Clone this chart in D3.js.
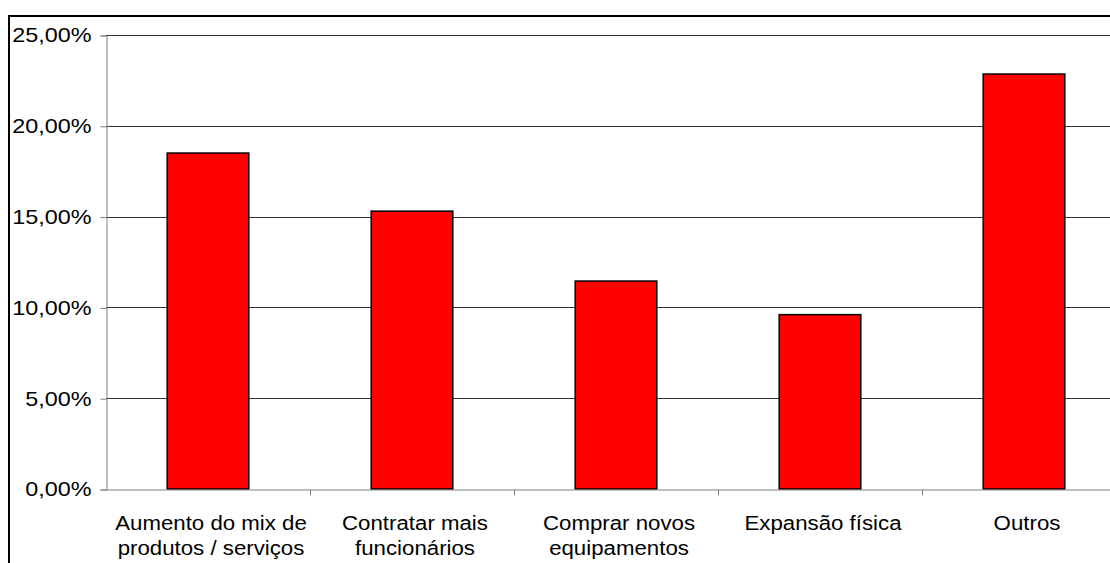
<!DOCTYPE html>
<html>
<head>
<meta charset="utf-8">
<script src="https://cdn.jsdelivr.net/npm/d3@7"></script>
<style>
  body { margin: 0; background: #fff; }
  text { font-family: "Liberation Sans", Arial, sans-serif; fill: #000; }
</style>
</head>
<body>
<div id="chart"></div>
<script>
// data
categories = ["mix", "func", "equip", "exp", "outros"]
labelLines = [
  ["Aumento do mix de", "produtos / serviços"],
  ["Contratar mais", "funcionários"],
  ["Comprar novos", "equipamentos"],
  ["Expansão física"],
  ["Outros"]
]
values = [0.185, 0.153, 0.1145, 0.096, 0.2285]
yTicks = [0, 0.05, 0.10, 0.15, 0.20, 0.25]

W = 1110, H = 563
plot = {left: 106, right: 1126, top: 35, bottom: 489}

svg = d3.select("#chart")
  .append("svg")
  .attr("width", W)
  .attr("height", H)

// outer chart border (runs off the right/bottom edge like the original)
svg.append("rect")
  .attr("x", 9).attr("y", 16)
  .attr("width", 1140).attr("height", 600)
  .attr("fill", "none")
  .attr("stroke", "#000")
  .attr("stroke-width", 2)

x = d3.scaleBand()
  .domain(categories)
  .range([plot.left, plot.right])
  .padding(0)

y = d3.scaleLinear()
  .domain([0, 0.25])
  .range([plot.bottom, plot.top])

// gridlines
svg.append("g")
  .selectAll("line")
  .data(yTicks.filter(d => d > 0))
  .join("line")
    .attr("x1", plot.left)
    .attr("x2", plot.right)
    .attr("y1", d => Math.round(y(d)) + 0.5)
    .attr("y2", d => Math.round(y(d)) + 0.5)
    .attr("stroke", "#333")
    .attr("stroke-width", 1)

// y axis
fmt = d => d3.format(".2f")(d * 100).replace(".", ",") + "%"
yAxis = svg.append("g")
  .attr("transform", `translate(${plot.left + 0.5}, 0.5)`)
  .call(d3.axisLeft(y).tickValues(yTicks).tickSize(6).tickFormat(fmt))
yAxis.select(".domain").attr("stroke", "#808080")
yAxis.selectAll(".tick line").attr("stroke", "#808080")
yAxis.selectAll(".tick text")
  .attr("x", null)
  .attr("transform", "translate(-15,0) scale(1.17,1)")
  .style("font-size", "20px")
  .style("font-family", "'Liberation Sans', Arial, sans-serif")

// bars
bw = x.bandwidth()
svg.append("g")
  .selectAll("rect")
  .data(values)
  .join("rect")
    .attr("x", (d, i) => x(categories[i]) + bw * 0.3)
    .attr("y", d => y(d))
    .attr("width", bw * 0.4)
    .attr("height", d => y(0) - y(d))
    .attr("fill", "#ff0000")
    .attr("stroke", "#000")
    .attr("stroke-width", 1.5)

// x axis, ticks sit between categories
xAxis = svg.append("g")
  .attr("transform", `translate(0, ${plot.bottom + 0.5})`)
  .call(d3.axisBottom(x).tickSize(0).tickFormat(""))
xAxis.select(".domain").attr("stroke", "#808080")
xAxis.selectAll(".tick").remove()

xAxis.selectAll("line.sep")
  .data(categories.slice(1))
  .join("line")
    .attr("class", "sep")
    .attr("x1", d => Math.round(x(d)) + 0.5)
    .attr("x2", d => Math.round(x(d)) + 0.5)
    .attr("y1", 0)
    .attr("y2", 6)
    .attr("stroke", "#808080")

// category labels
labels = svg.append("g")
  .selectAll("text")
  .data(categories)
  .join("text")
    .attr("transform", d => `translate(${x(d) + bw / 2 + 3}, ${plot.bottom + 41}) scale(1.06,1)`)
    .attr("text-anchor", "middle")
    .style("font-size", "21px")

labels.selectAll("tspan")
  .data((d, i) => labelLines[i])
  .join("tspan")
    .attr("x", 0)
    .attr("y", (d, j) => j * 25)
    .text(d => d)
</script>
</body>
</html>
